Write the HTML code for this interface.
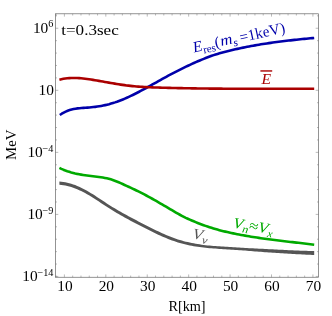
<!DOCTYPE html>
<html><head><meta charset="utf-8">
<style>
html,body{margin:0;padding:0;background:#fff;}
svg{display:block;will-change:transform;}
text{font-family:"Liberation Serif",serif;fill:#000;}
.tk line{stroke:#666;stroke-width:0.45;}
</style></head><body>
<svg width="332" height="316" viewBox="0 0 332 316">
<rect width="332" height="316" fill="#fff"/>
<rect x="55.50" y="13.80" width="263.00" height="263.45" fill="none" stroke="#666" stroke-width="0.7"/>
<g class="tk"><line x1="56.12" y1="277.25" x2="56.12" y2="275.55"/><line x1="56.12" y1="13.80" x2="56.12" y2="15.50"/><line x1="64.40" y1="277.25" x2="64.40" y2="274.45"/><line x1="64.40" y1="13.80" x2="64.40" y2="16.60"/><line x1="72.68" y1="277.25" x2="72.68" y2="275.55"/><line x1="72.68" y1="13.80" x2="72.68" y2="15.50"/><line x1="80.97" y1="277.25" x2="80.97" y2="275.55"/><line x1="80.97" y1="13.80" x2="80.97" y2="15.50"/><line x1="89.25" y1="277.25" x2="89.25" y2="275.55"/><line x1="89.25" y1="13.80" x2="89.25" y2="15.50"/><line x1="97.54" y1="277.25" x2="97.54" y2="275.55"/><line x1="97.54" y1="13.80" x2="97.54" y2="15.50"/><line x1="105.82" y1="277.25" x2="105.82" y2="274.45"/><line x1="105.82" y1="13.80" x2="105.82" y2="16.60"/><line x1="114.10" y1="277.25" x2="114.10" y2="275.55"/><line x1="114.10" y1="13.80" x2="114.10" y2="15.50"/><line x1="122.39" y1="277.25" x2="122.39" y2="275.55"/><line x1="122.39" y1="13.80" x2="122.39" y2="15.50"/><line x1="130.67" y1="277.25" x2="130.67" y2="275.55"/><line x1="130.67" y1="13.80" x2="130.67" y2="15.50"/><line x1="138.96" y1="277.25" x2="138.96" y2="275.55"/><line x1="138.96" y1="13.80" x2="138.96" y2="15.50"/><line x1="147.24" y1="277.25" x2="147.24" y2="274.45"/><line x1="147.24" y1="13.80" x2="147.24" y2="16.60"/><line x1="155.52" y1="277.25" x2="155.52" y2="275.55"/><line x1="155.52" y1="13.80" x2="155.52" y2="15.50"/><line x1="163.81" y1="277.25" x2="163.81" y2="275.55"/><line x1="163.81" y1="13.80" x2="163.81" y2="15.50"/><line x1="172.09" y1="277.25" x2="172.09" y2="275.55"/><line x1="172.09" y1="13.80" x2="172.09" y2="15.50"/><line x1="180.38" y1="277.25" x2="180.38" y2="275.55"/><line x1="180.38" y1="13.80" x2="180.38" y2="15.50"/><line x1="188.66" y1="277.25" x2="188.66" y2="274.45"/><line x1="188.66" y1="13.80" x2="188.66" y2="16.60"/><line x1="196.94" y1="277.25" x2="196.94" y2="275.55"/><line x1="196.94" y1="13.80" x2="196.94" y2="15.50"/><line x1="205.23" y1="277.25" x2="205.23" y2="275.55"/><line x1="205.23" y1="13.80" x2="205.23" y2="15.50"/><line x1="213.51" y1="277.25" x2="213.51" y2="275.55"/><line x1="213.51" y1="13.80" x2="213.51" y2="15.50"/><line x1="221.80" y1="277.25" x2="221.80" y2="275.55"/><line x1="221.80" y1="13.80" x2="221.80" y2="15.50"/><line x1="230.08" y1="277.25" x2="230.08" y2="274.45"/><line x1="230.08" y1="13.80" x2="230.08" y2="16.60"/><line x1="238.36" y1="277.25" x2="238.36" y2="275.55"/><line x1="238.36" y1="13.80" x2="238.36" y2="15.50"/><line x1="246.65" y1="277.25" x2="246.65" y2="275.55"/><line x1="246.65" y1="13.80" x2="246.65" y2="15.50"/><line x1="254.93" y1="277.25" x2="254.93" y2="275.55"/><line x1="254.93" y1="13.80" x2="254.93" y2="15.50"/><line x1="263.22" y1="277.25" x2="263.22" y2="275.55"/><line x1="263.22" y1="13.80" x2="263.22" y2="15.50"/><line x1="271.50" y1="277.25" x2="271.50" y2="274.45"/><line x1="271.50" y1="13.80" x2="271.50" y2="16.60"/><line x1="279.78" y1="277.25" x2="279.78" y2="275.55"/><line x1="279.78" y1="13.80" x2="279.78" y2="15.50"/><line x1="288.07" y1="277.25" x2="288.07" y2="275.55"/><line x1="288.07" y1="13.80" x2="288.07" y2="15.50"/><line x1="296.35" y1="277.25" x2="296.35" y2="275.55"/><line x1="296.35" y1="13.80" x2="296.35" y2="15.50"/><line x1="304.64" y1="277.25" x2="304.64" y2="275.55"/><line x1="304.64" y1="13.80" x2="304.64" y2="15.50"/><line x1="312.92" y1="277.25" x2="312.92" y2="274.45"/><line x1="312.92" y1="13.80" x2="312.92" y2="16.60"/><line x1="55.50" y1="15.84" x2="57.00" y2="15.84"/><line x1="318.50" y1="15.84" x2="317.00" y2="15.84"/><line x1="55.50" y1="28.25" x2="58.30" y2="28.25"/><line x1="318.50" y1="28.25" x2="315.70" y2="28.25"/><line x1="55.50" y1="40.66" x2="57.00" y2="40.66"/><line x1="318.50" y1="40.66" x2="317.00" y2="40.66"/><line x1="55.50" y1="53.07" x2="57.00" y2="53.07"/><line x1="318.50" y1="53.07" x2="317.00" y2="53.07"/><line x1="55.50" y1="65.48" x2="57.00" y2="65.48"/><line x1="318.50" y1="65.48" x2="317.00" y2="65.48"/><line x1="55.50" y1="77.89" x2="57.00" y2="77.89"/><line x1="318.50" y1="77.89" x2="317.00" y2="77.89"/><line x1="55.50" y1="90.30" x2="58.30" y2="90.30"/><line x1="318.50" y1="90.30" x2="315.70" y2="90.30"/><line x1="55.50" y1="102.71" x2="57.00" y2="102.71"/><line x1="318.50" y1="102.71" x2="317.00" y2="102.71"/><line x1="55.50" y1="115.12" x2="57.00" y2="115.12"/><line x1="318.50" y1="115.12" x2="317.00" y2="115.12"/><line x1="55.50" y1="127.53" x2="57.00" y2="127.53"/><line x1="318.50" y1="127.53" x2="317.00" y2="127.53"/><line x1="55.50" y1="139.94" x2="57.00" y2="139.94"/><line x1="318.50" y1="139.94" x2="317.00" y2="139.94"/><line x1="55.50" y1="152.35" x2="58.30" y2="152.35"/><line x1="318.50" y1="152.35" x2="315.70" y2="152.35"/><line x1="55.50" y1="164.76" x2="57.00" y2="164.76"/><line x1="318.50" y1="164.76" x2="317.00" y2="164.76"/><line x1="55.50" y1="177.17" x2="57.00" y2="177.17"/><line x1="318.50" y1="177.17" x2="317.00" y2="177.17"/><line x1="55.50" y1="189.58" x2="57.00" y2="189.58"/><line x1="318.50" y1="189.58" x2="317.00" y2="189.58"/><line x1="55.50" y1="201.99" x2="57.00" y2="201.99"/><line x1="318.50" y1="201.99" x2="317.00" y2="201.99"/><line x1="55.50" y1="214.40" x2="58.30" y2="214.40"/><line x1="318.50" y1="214.40" x2="315.70" y2="214.40"/><line x1="55.50" y1="226.81" x2="57.00" y2="226.81"/><line x1="318.50" y1="226.81" x2="317.00" y2="226.81"/><line x1="55.50" y1="239.22" x2="57.00" y2="239.22"/><line x1="318.50" y1="239.22" x2="317.00" y2="239.22"/><line x1="55.50" y1="251.63" x2="57.00" y2="251.63"/><line x1="318.50" y1="251.63" x2="317.00" y2="251.63"/><line x1="55.50" y1="264.04" x2="57.00" y2="264.04"/><line x1="318.50" y1="264.04" x2="317.00" y2="264.04"/><line x1="55.50" y1="276.45" x2="58.30" y2="276.45"/><line x1="318.50" y1="276.45" x2="315.70" y2="276.45"/></g>
<path d="M59.40,181.46 L61.38,181.63 L63.35,181.89 L65.33,182.23 L67.30,182.66 L69.28,183.16 L71.25,183.74 L73.23,184.39 L75.20,185.12 L77.18,185.91 L79.15,186.77 L81.13,187.69 L83.10,188.68 L85.08,189.71 L87.05,190.81 L89.03,191.95 L91.00,193.13 L92.98,194.36 L94.95,195.61 L96.93,196.89 L98.90,198.18 L100.88,199.48 L102.85,200.79 L104.83,202.09 L106.80,203.38 L108.78,204.66 L110.76,205.91 L112.73,207.14 L114.71,208.34 L116.68,209.52 L118.66,210.67 L120.63,211.81 L122.61,212.92 L124.58,214.02 L126.56,215.11 L128.53,216.18 L130.51,217.24 L132.48,218.28 L134.46,219.32 L136.43,220.35 L138.41,221.38 L140.38,222.40 L142.36,223.42 L144.33,224.44 L146.31,225.46 L148.28,226.47 L150.26,227.47 L152.23,228.47 L154.21,229.45 L156.18,230.41 L158.16,231.36 L160.13,232.29 L162.11,233.20 L164.09,234.08 L166.06,234.93 L168.04,235.76 L170.01,236.55 L171.99,237.31 L173.96,238.04 L175.94,238.73 L177.91,239.39 L179.89,240.01 L181.86,240.59 L183.84,241.13 L185.81,241.64 L187.79,242.12 L189.76,242.57 L191.74,242.98 L193.71,243.37 L195.69,243.73 L197.66,244.06 L199.64,244.37 L201.61,244.65 L203.59,244.91 L205.56,245.16 L207.54,245.39 L209.51,245.60 L211.49,245.79 L213.47,245.96 L215.44,246.10 L217.42,246.24 L219.39,246.37 L221.37,246.50 L223.34,246.62 L225.32,246.74 L227.29,246.86 L229.27,246.98 L231.24,247.10 L233.22,247.22 L235.19,247.34 L237.17,247.46 L239.14,247.58 L241.12,247.70 L243.09,247.81 L245.07,247.92 L247.04,248.02 L249.02,248.13 L250.99,248.23 L252.97,248.33 L254.94,248.43 L256.92,248.53 L258.89,248.63 L260.87,248.73 L262.84,248.83 L264.82,248.93 L266.80,249.04 L268.77,249.14 L270.75,249.25 L272.72,249.35 L274.70,249.46 L276.67,249.56 L278.65,249.66 L280.62,249.76 L282.60,249.86 L284.57,249.95 L286.55,250.05 L288.52,250.14 L290.50,250.23 L292.47,250.32 L294.45,250.40 L296.42,250.49 L298.40,250.57 L300.37,250.64 L302.35,250.72 L304.32,250.79 L306.30,250.86 L308.27,250.93 L310.25,250.99 L312.22,251.05 L314.20,251.11 L314.20,255.01 L312.22,254.92 L310.25,254.83 L308.27,254.74 L306.30,254.65 L304.32,254.55 L302.35,254.45 L300.37,254.35 L298.40,254.24 L296.42,254.13 L294.45,254.02 L292.47,253.91 L290.50,253.80 L288.52,253.68 L286.55,253.56 L284.57,253.44 L282.60,253.32 L280.62,253.19 L278.65,253.07 L276.67,252.94 L274.70,252.81 L272.72,252.68 L270.75,252.54 L268.77,252.41 L266.80,252.27 L264.82,252.13 L262.84,251.99 L260.87,251.84 L258.89,251.69 L256.92,251.54 L254.94,251.39 L252.97,251.23 L250.99,251.08 L249.02,250.92 L247.04,250.77 L245.07,250.62 L243.09,250.47 L241.12,250.33 L239.14,250.19 L237.17,250.05 L235.19,249.92 L233.22,249.79 L231.24,249.66 L229.27,249.53 L227.29,249.40 L225.32,249.27 L223.34,249.14 L221.37,249.01 L219.39,248.88 L217.42,248.75 L215.44,248.60 L213.47,248.46 L211.49,248.30 L209.51,248.14 L207.54,247.98 L205.56,247.80 L203.59,247.60 L201.61,247.37 L199.64,247.12 L197.66,246.84 L195.69,246.53 L193.71,246.19 L191.74,245.83 L189.76,245.44 L187.79,245.01 L185.81,244.56 L183.84,244.07 L181.86,243.54 L179.89,242.98 L177.91,242.39 L175.94,241.76 L173.96,241.09 L171.99,240.39 L170.01,239.65 L168.04,238.89 L166.06,238.09 L164.09,237.26 L162.11,236.41 L160.13,235.53 L158.16,234.63 L156.18,233.70 L154.21,232.76 L152.23,231.80 L150.26,230.82 L148.28,229.84 L146.31,228.84 L144.33,227.83 L142.36,226.82 L140.38,225.80 L138.41,224.78 L136.43,223.75 L134.46,222.72 L132.48,221.68 L130.51,220.64 L128.53,219.58 L126.56,218.51 L124.58,217.42 L122.61,216.32 L120.63,215.21 L118.66,214.07 L116.68,212.92 L114.71,211.74 L112.73,210.54 L110.76,209.31 L108.78,208.06 L106.80,206.78 L104.83,205.49 L102.85,204.19 L100.88,202.88 L98.90,201.58 L96.93,200.29 L94.95,199.01 L92.98,197.76 L91.00,196.53 L89.03,195.35 L87.05,194.20 L85.08,193.11 L83.10,192.07 L81.13,191.08 L79.15,190.16 L77.18,189.29 L75.20,188.49 L73.23,187.76 L71.25,187.09 L69.28,186.51 L67.30,185.99 L65.33,185.56 L63.35,185.21 L61.38,184.94 L59.40,184.76Z" fill="#555555"/>
<g fill="none" stroke-linecap="butt" stroke-linejoin="round">
<path d="M59.40,167.88 L61.38,168.82 L63.35,169.68 L65.33,170.46 L67.30,171.18 L69.28,171.83 L71.25,172.43 L73.23,172.96 L75.20,173.45 L77.18,173.89 L79.15,174.28 L81.13,174.64 L83.10,174.96 L85.08,175.26 L87.05,175.53 L89.03,175.77 L91.00,176.01 L92.98,176.23 L94.95,176.46 L96.93,176.69 L98.90,176.94 L100.88,177.23 L102.85,177.54 L104.83,177.91 L106.80,178.33 L108.78,178.81 L110.76,179.36 L112.73,179.99 L114.71,180.71 L116.68,181.48 L118.66,182.31 L120.63,183.17 L122.61,184.06 L124.58,184.96 L126.56,185.87 L128.53,186.77 L130.51,187.68 L132.48,188.60 L134.46,189.53 L136.43,190.47 L138.41,191.44 L140.38,192.43 L142.36,193.44 L144.33,194.47 L146.31,195.52 L148.28,196.58 L150.26,197.66 L152.23,198.76 L154.21,199.87 L156.18,200.99 L158.16,202.12 L160.13,203.27 L162.11,204.42 L164.09,205.57 L166.06,206.74 L168.04,207.91 L170.01,209.08 L171.99,210.24 L173.96,211.40 L175.94,212.54 L177.91,213.65 L179.89,214.75 L181.86,215.80 L183.84,216.83 L185.81,217.81 L187.79,218.74 L189.76,219.63 L191.74,220.49 L193.71,221.32 L195.69,222.13 L197.66,222.93 L199.64,223.70 L201.61,224.46 L203.59,225.19 L205.56,225.90 L207.54,226.57 L209.51,227.22 L211.49,227.85 L213.47,228.45 L215.44,229.03 L217.42,229.59 L219.39,230.13 L221.37,230.64 L223.34,231.14 L225.32,231.62 L227.29,232.08 L229.27,232.53 L231.24,232.96 L233.22,233.38 L235.19,233.79 L237.17,234.18 L239.14,234.57 L241.12,234.94 L243.09,235.30 L245.07,235.65 L247.04,236.00 L249.02,236.33 L250.99,236.66 L252.97,236.97 L254.94,237.28 L256.92,237.59 L258.89,237.88 L260.87,238.17 L262.84,238.45 L264.82,238.73 L266.80,239.00 L268.77,239.26 L270.75,239.52 L272.72,239.78 L274.70,240.03 L276.67,240.28 L278.65,240.52 L280.62,240.76 L282.60,241.00 L284.57,241.23 L286.55,241.46 L288.52,241.69 L290.50,241.92 L292.47,242.15 L294.45,242.38 L296.42,242.60 L298.40,242.83 L300.37,243.06 L302.35,243.29 L304.32,243.52 L306.30,243.75 L308.27,243.98 L310.25,244.21 L312.22,244.45 L314.20,244.69" stroke="#00aa00" stroke-width="2.6"/>
<path d="M59.80,115.04 L61.77,113.71 L63.74,112.56 L65.72,111.58 L67.69,110.76 L69.66,110.07 L71.63,109.50 L73.60,109.05 L75.58,108.69 L77.55,108.41 L79.52,108.19 L81.49,108.02 L83.47,107.88 L85.44,107.76 L87.41,107.62 L89.38,107.47 L91.35,107.29 L93.33,107.08 L95.30,106.84 L97.27,106.57 L99.24,106.26 L101.21,105.92 L103.19,105.54 L105.16,105.12 L107.13,104.66 L109.10,104.16 L111.07,103.61 L113.05,103.01 L115.02,102.38 L116.99,101.70 L118.96,100.97 L120.93,100.21 L122.91,99.42 L124.88,98.59 L126.85,97.72 L128.82,96.83 L130.80,95.91 L132.77,94.96 L134.74,93.99 L136.71,92.99 L138.68,91.98 L140.66,90.94 L142.63,89.89 L144.60,88.83 L146.57,87.75 L148.54,86.67 L150.52,85.58 L152.49,84.48 L154.46,83.38 L156.43,82.27 L158.40,81.17 L160.38,80.07 L162.35,78.97 L164.32,77.88 L166.29,76.80 L168.27,75.73 L170.24,74.67 L172.21,73.63 L174.18,72.59 L176.15,71.57 L178.13,70.57 L180.10,69.57 L182.07,68.59 L184.04,67.63 L186.01,66.68 L187.99,65.74 L189.96,64.82 L191.93,63.92 L193.90,63.03 L195.87,62.16 L197.85,61.30 L199.82,60.46 L201.79,59.63 L203.76,58.83 L205.73,58.04 L207.71,57.27 L209.68,56.53 L211.65,55.82 L213.62,55.14 L215.60,54.50 L217.57,53.89 L219.54,53.32 L221.51,52.77 L223.48,52.25 L225.46,51.74 L227.43,51.24 L229.40,50.75 L231.37,50.27 L233.34,49.80 L235.32,49.34 L237.29,48.89 L239.26,48.45 L241.23,48.03 L243.20,47.61 L245.18,47.21 L247.15,46.82 L249.12,46.43 L251.09,46.06 L253.07,45.70 L255.04,45.35 L257.01,45.00 L258.98,44.67 L260.95,44.34 L262.93,44.03 L264.90,43.72 L266.87,43.42 L268.84,43.12 L270.81,42.84 L272.79,42.56 L274.76,42.29 L276.73,42.02 L278.70,41.77 L280.67,41.52 L282.65,41.27 L284.62,41.03 L286.59,40.80 L288.56,40.57 L290.53,40.34 L292.51,40.12 L294.48,39.91 L296.45,39.69 L298.42,39.49 L300.40,39.28 L302.37,39.08 L304.34,38.89 L306.31,38.69 L308.28,38.50 L310.26,38.31 L312.23,38.12 L314.20,37.94" stroke="#0000aa" stroke-width="2.6"/>
<path d="M59.40,79.71 L61.38,79.23 L63.35,78.84 L65.33,78.52 L67.30,78.28 L69.28,78.10 L71.25,77.99 L73.23,77.95 L75.20,77.96 L77.18,78.02 L79.15,78.13 L81.13,78.28 L83.10,78.47 L85.08,78.70 L87.05,78.96 L89.03,79.24 L91.00,79.55 L92.98,79.87 L94.95,80.20 L96.93,80.55 L98.90,80.89 L100.88,81.24 L102.85,81.59 L104.83,81.94 L106.80,82.29 L108.78,82.64 L110.76,82.98 L112.73,83.32 L114.71,83.65 L116.68,83.97 L118.66,84.29 L120.63,84.59 L122.61,84.88 L124.58,85.16 L126.56,85.42 L128.53,85.66 L130.51,85.89 L132.48,86.11 L134.46,86.30 L136.43,86.47 L138.41,86.63 L140.38,86.77 L142.36,86.90 L144.33,87.01 L146.31,87.12 L148.28,87.21 L150.26,87.29 L152.23,87.37 L154.21,87.44 L156.18,87.50 L158.16,87.56 L160.13,87.62 L162.11,87.68 L164.09,87.73 L166.06,87.79 L168.04,87.84 L170.01,87.89 L171.99,87.94 L173.96,87.99 L175.94,88.03 L177.91,88.08 L179.89,88.12 L181.86,88.16 L183.84,88.20 L185.81,88.24 L187.79,88.27 L189.76,88.31 L191.74,88.34 L193.71,88.38 L195.69,88.41 L197.66,88.43 L199.64,88.46 L201.61,88.49 L203.59,88.51 L205.56,88.54 L207.54,88.56 L209.51,88.58 L211.49,88.59 L213.47,88.61 L215.44,88.63 L217.42,88.64 L219.39,88.66 L221.37,88.67 L223.34,88.68 L225.32,88.69 L227.29,88.70 L229.27,88.71 L231.24,88.71 L233.22,88.72 L235.19,88.72 L237.17,88.73 L239.14,88.73 L241.12,88.73 L243.09,88.74 L245.07,88.74 L247.04,88.74 L249.02,88.74 L250.99,88.74 L252.97,88.74 L254.94,88.74 L256.92,88.73 L258.89,88.73 L260.87,88.73 L262.84,88.73 L264.82,88.72 L266.80,88.72 L268.77,88.72 L270.75,88.71 L272.72,88.71 L274.70,88.71 L276.67,88.70 L278.65,88.70 L280.62,88.70 L282.60,88.69 L284.57,88.69 L286.55,88.69 L288.52,88.69 L290.50,88.68 L292.47,88.68 L294.45,88.68 L296.42,88.68 L298.40,88.68 L300.37,88.68 L302.35,88.68 L304.32,88.68 L306.30,88.69 L308.27,88.69 L310.25,88.69 L312.22,88.70 L314.20,88.70" stroke="#aa0000" stroke-width="2.6"/>
</g>
<text transform="translate(53.40,27.40)" font-size="10.2" text-anchor="end" >6</text>
<text transform="translate(48.30,33.00) scale(1.1,1)" font-size="14" text-anchor="end" >10</text>
<text transform="translate(54.00,95.05) scale(1.1,1)" font-size="14" text-anchor="end" >10</text>
<text transform="translate(53.40,151.50)" font-size="10.2" text-anchor="end" >−4</text>
<text transform="translate(42.80,157.10) scale(1.1,1)" font-size="14" text-anchor="end" >10</text>
<text transform="translate(53.40,213.55)" font-size="10.2" text-anchor="end" >−9</text>
<text transform="translate(42.80,219.15) scale(1.1,1)" font-size="14" text-anchor="end" >10</text>
<text transform="translate(53.40,275.60)" font-size="10.2" text-anchor="end" >−14</text>
<text transform="translate(37.60,281.20) scale(1.1,1)" font-size="14" text-anchor="end" >10</text>
<text transform="translate(64.90,290.90) scale(1.1,1)" font-size="14" text-anchor="middle" >10</text>
<text transform="translate(106.32,290.90) scale(1.1,1)" font-size="14" text-anchor="middle" >20</text>
<text transform="translate(147.74,290.90) scale(1.1,1)" font-size="14" text-anchor="middle" >30</text>
<text transform="translate(189.16,290.90) scale(1.1,1)" font-size="14" text-anchor="middle" >40</text>
<text transform="translate(230.58,290.90) scale(1.1,1)" font-size="14" text-anchor="middle" >50</text>
<text transform="translate(272.00,290.90) scale(1.1,1)" font-size="14" text-anchor="middle" >60</text>
<text transform="translate(313.42,290.90) scale(1.1,1)" font-size="14" text-anchor="middle" >70</text>
<text transform="translate(61.20,35.30) scale(1.14,1)" font-size="15" text-anchor="start" >t=0.3sec</text>
<text transform="translate(187.00,310.50) scale(1.02,1)" font-size="14" text-anchor="middle" >R[km]</text>
<text transform="translate(15.80,144.80) rotate(-90) scale(1.06,1)" font-size="14" text-anchor="middle" >MeV</text>
<text transform="translate(194.00,52.50) rotate(-12.5)" font-size="15.4" text-anchor="start" style="fill:#0000aa"><tspan font-style="italic">E</tspan><tspan dy="3.2" font-size="11">res</tspan><tspan dy="-3.2">(</tspan></text>
<text transform="translate(221.30,46.00) rotate(-12.5) scale(1.1,1)" font-size="15.4" text-anchor="start" style="fill:#0000aa"><tspan font-style="italic">m</tspan><tspan dy="3.2" font-size="11" font-style="italic">s</tspan></text>
<text transform="translate(240.70,42.40) rotate(-12.5) scale(0.98,1)" font-size="15.4" text-anchor="start" style="fill:#0000aa">=1keV)</text>
<text transform="translate(261.40,83.90)" font-size="15.6" text-anchor="start" font-style="italic" style="fill:#aa0000">E</text>
<line x1="260.4" y1="70.95" x2="272.2" y2="70.95" stroke="#aa0000" stroke-width="1.4"/>
<text transform="translate(232.40,227.40) rotate(10) scale(1.11,1)" font-size="15" text-anchor="start" style="fill:#00aa00"><tspan font-style="italic">V</tspan><tspan dy="3.2" font-size="11" font-style="italic">n</tspan><tspan dy="-3.2">≈</tspan><tspan font-style="italic">V</tspan><tspan dy="3.2" font-size="11" font-style="italic">x</tspan></text>
<text transform="translate(192.00,238.20) rotate(10) scale(1.12,1)" font-size="15" text-anchor="start" style="fill:#555555"><tspan font-style="italic">V</tspan><tspan dy="3.2" font-size="11" font-style="italic">ν</tspan></text>
</svg>
</body></html>
